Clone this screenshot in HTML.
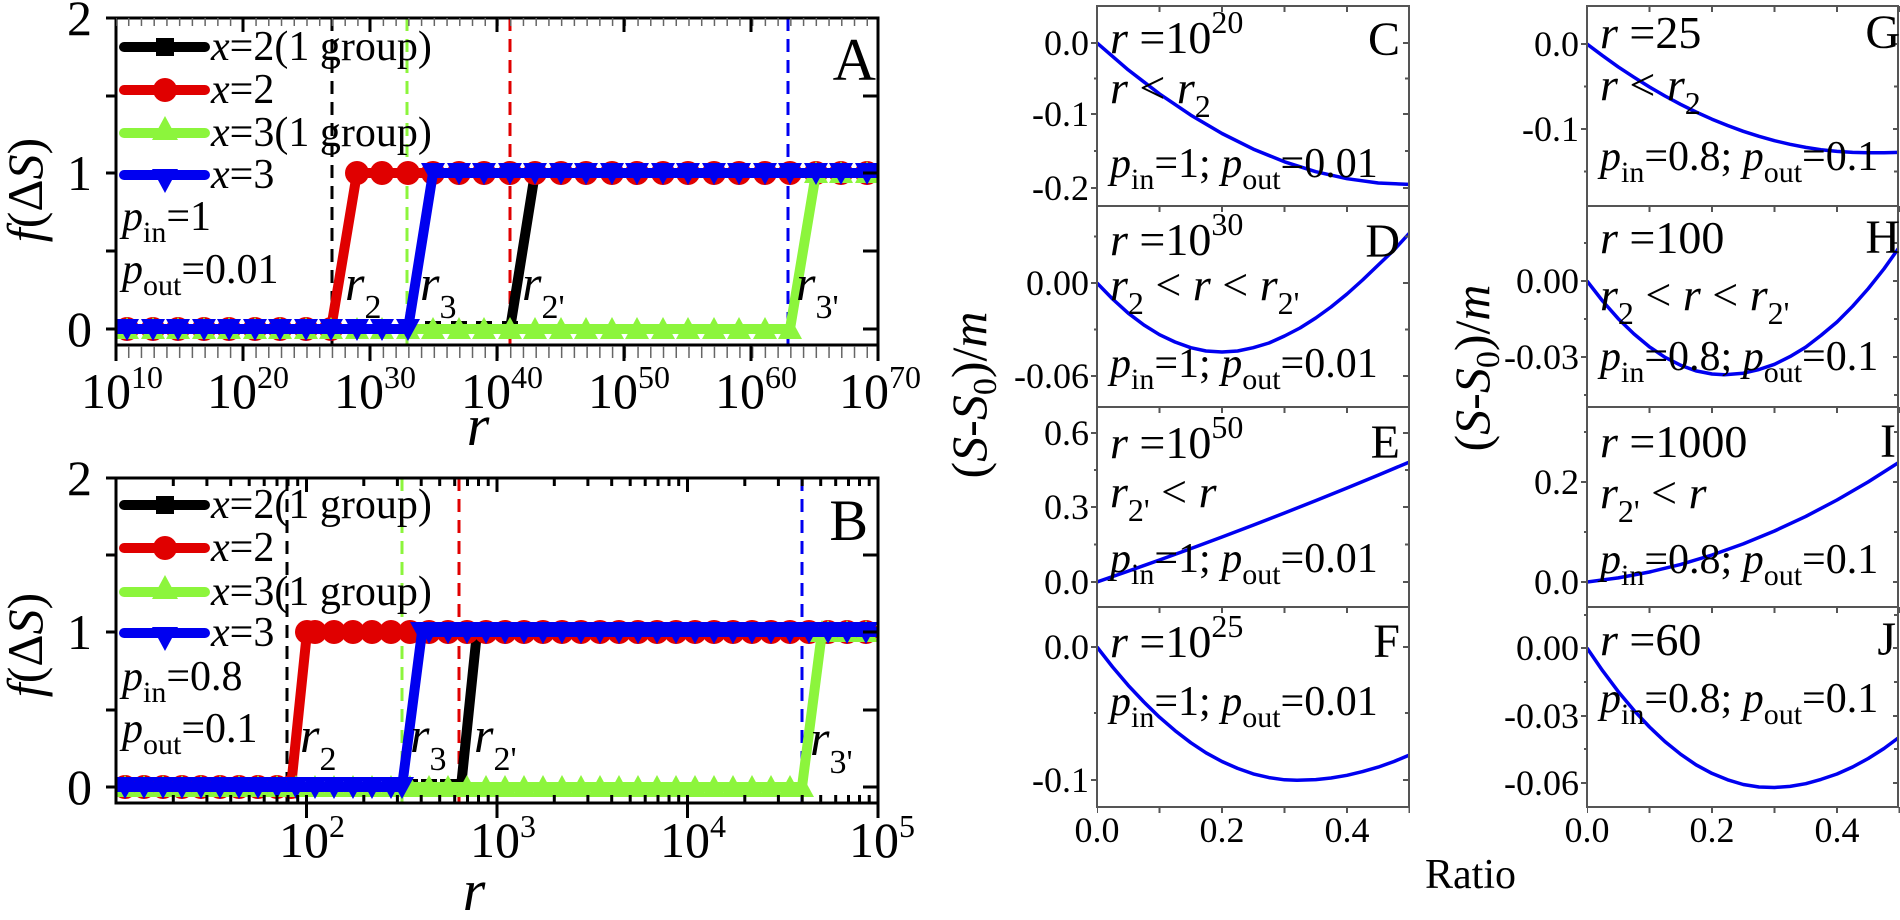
<!DOCTYPE html>
<html><head><meta charset="utf-8"><style>
html,body{margin:0;padding:0;background:#fff;font-family:"Liberation Serif","Times New Roman",Times,serif;}
text,tspan{font-family:"Liberation Serif","Times New Roman",Times,serif !important;}
</style></head><body>
<svg width="1900" height="915" viewBox="0 0 1900 915" xmlns="http://www.w3.org/2000/svg" font-family="Liberation Serif, Times New Roman, Times, serif">
<defs>
<marker id="mSq" markerWidth="18" markerHeight="18" refX="9" refY="9" markerUnits="userSpaceOnUse"><rect x="1" y="1" width="16" height="16" fill="#000"/></marker>
<marker id="mCi" markerWidth="26" markerHeight="26" refX="13" refY="13" markerUnits="userSpaceOnUse"><circle cx="13" cy="13" r="12" fill="#e00000"/></marker>
<marker id="mTu" markerWidth="24" markerHeight="24" refX="12" refY="12" markerUnits="userSpaceOnUse"><polygon points="12,0 24,22 0,22" fill="#8cf53c"/></marker>
<marker id="mTd" markerWidth="24" markerHeight="24" refX="12" refY="12" markerUnits="userSpaceOnUse"><polygon points="0,2 24,2 12,24" fill="#0000f0"/></marker>
<clipPath id="cA"><rect x="116" y="18" width="762" height="327"/></clipPath>
<clipPath id="cB"><rect x="116" y="478" width="762" height="325"/></clipPath>
<clipPath id="cC"><rect x="1097" y="6" width="312" height="200"/></clipPath>
<clipPath id="cD"><rect x="1097" y="206" width="312" height="201"/></clipPath>
<clipPath id="cE"><rect x="1097" y="407" width="312" height="200"/></clipPath>
<clipPath id="cF"><rect x="1097" y="607" width="312" height="200"/></clipPath>
<clipPath id="cG"><rect x="1587" y="6" width="312" height="200"/></clipPath>
<clipPath id="cH"><rect x="1587" y="206" width="312" height="201"/></clipPath>
<clipPath id="cI"><rect x="1587" y="407" width="312" height="200"/></clipPath>
<clipPath id="cJ"><rect x="1587" y="607" width="312" height="200"/></clipPath>
</defs>

<!-- ================= PANEL A ================= -->
<g stroke-width="3" fill="none" stroke-dasharray="13,8" clip-path="url(#cA)">
<line x1="332" y1="18" x2="332" y2="345" stroke="#000"/>
<line x1="407" y1="18" x2="407" y2="345" stroke="#8cf53c"/>
<line x1="510" y1="18" x2="510" y2="345" stroke="#e00000"/>
<line x1="788" y1="18" x2="788" y2="345" stroke="#0000f0"/>
</g>
<g fill="none" stroke-width="10" stroke-linejoin="round" clip-path="url(#cA)">
<polyline stroke="#000" marker-mid="url(#mSq)" points="116,329 127,329 153,329 178,329 204,329 229,329 255,329 280,329 306,329 331,329 357,329 382,329 408,329 433,329 459,329 484,329 510,329 535,173 561,173 586,173 612,173 637,173 663,173 688,173 714,173 739,173 765,173 790,173 816,173 841,173 867,173 878,173"/>
<polyline stroke="#e00000" marker-mid="url(#mCi)" points="116,329 127,329 153,329 178,329 204,329 229,329 255,329 280,329 306,329 331,329 357,173 382,173 408,173 433,173 459,173 484,173 510,173 535,173 561,173 586,173 612,173 637,173 663,173 688,173 714,173 739,173 765,173 790,173 816,173 841,173 867,173 878,173"/>
<polyline stroke="#8cf53c" marker-mid="url(#mTu)" points="116,329 127,329 153,329 178,329 204,329 229,329 255,329 280,329 306,329 331,329 357,329 382,329 408,329 433,329 459,329 484,329 510,329 535,329 561,329 586,329 612,329 637,329 663,329 688,329 714,329 739,329 765,329 790,329 816,173 841,173 867,173 878,173"/>
<polyline stroke="#0000f0" marker-mid="url(#mTd)" points="116,329 127,329 153,329 178,329 204,329 229,329 255,329 280,329 306,329 331,329 357,329 382,329 408,329 433,173 459,173 484,173 510,173 535,173 561,173 586,173 612,173 637,173 663,173 688,173 714,173 739,173 765,173 790,173 816,173 841,173 867,173 878,173"/>
</g>
<rect x="116" y="18" width="762" height="327" fill="none" stroke="#000" stroke-width="3"/>
<line x1="116" y1="352" x2="878" y2="352" stroke="#666" stroke-width="12" stroke-dasharray="1.5,11.233" stroke-dashoffset="0.75"/>
<line x1="116" y1="22" x2="878" y2="22" stroke="#666" stroke-width="8" stroke-dasharray="1.5,11.233" stroke-dashoffset="0.75"/>
<g stroke="#000" stroke-width="3">
<line x1="116" y1="345" x2="116" y2="361"/><line x1="243" y1="345" x2="243" y2="361"/><line x1="370" y1="345" x2="370" y2="361"/><line x1="497" y1="345" x2="497" y2="361"/><line x1="624" y1="345" x2="624" y2="361"/><line x1="751" y1="345" x2="751" y2="361"/><line x1="878" y1="345" x2="878" y2="361"/>
<line x1="243" y1="18" x2="243" y2="32"/><line x1="370" y1="18" x2="370" y2="32"/><line x1="497" y1="18" x2="497" y2="32"/><line x1="624" y1="18" x2="624" y2="32"/><line x1="751" y1="18" x2="751" y2="32"/>
<line x1="106" y1="18" x2="116" y2="18"/><line x1="106" y1="96" x2="116" y2="96"/><line x1="106" y1="173" x2="116" y2="173"/><line x1="106" y1="251" x2="116" y2="251"/><line x1="106" y1="329" x2="116" y2="329"/>
<line x1="863" y1="96" x2="878" y2="96"/><line x1="863" y1="173" x2="878" y2="173"/><line x1="863" y1="251" x2="878" y2="251"/><line x1="863" y1="329" x2="878" y2="329"/>
</g>
<g font-size="50" text-anchor="end" font-family="Liberation Serif, serif">
<text x="92" y="35">2</text><text x="92" y="190">1</text><text x="92" y="346">0</text>
</g>
<g font-size="50" text-anchor="middle" font-family="Liberation Serif, serif">
<text x="122" y="408">10<tspan dy="-20" font-size="32">10</tspan></text>
<text x="248" y="408">10<tspan dy="-20" font-size="32">20</tspan></text>
<text x="375" y="408">10<tspan dy="-20" font-size="32">30</tspan></text>
<text x="502" y="408">10<tspan dy="-20" font-size="32">40</tspan></text>
<text x="629" y="408">10<tspan dy="-20" font-size="32">50</tspan></text>
<text x="756" y="408">10<tspan dy="-20" font-size="32">60</tspan></text>
<text x="880" y="408">10<tspan dy="-20" font-size="32">70</tspan></text>
</g>
<text x="478" y="445" font-size="58" font-style="italic" text-anchor="middle" font-family="Liberation Serif, serif">r</text>
<text transform="translate(42,190) rotate(-90)" font-size="50" text-anchor="middle" font-family="Liberation Serif, serif"><tspan font-style="italic">f</tspan>(Δ<tspan font-style="italic">S</tspan>)</text>
<text x="876" y="80" font-size="60" text-anchor="end" font-family="Liberation Serif, serif">A</text>
<g stroke-width="10" stroke-linecap="round">
<line x1="124" y1="47" x2="205" y2="47" stroke="#000"/><rect x="156" y="38" width="18" height="18" fill="#000"/>
<line x1="124" y1="90" x2="205" y2="90" stroke="#e00000"/><circle cx="165" cy="90" r="12" fill="#e00000"/>
<line x1="124" y1="133" x2="205" y2="133" stroke="#8cf53c"/><polygon points="165,116 178,140 152,140" fill="#8cf53c"/>
<line x1="124" y1="175" x2="205" y2="175" stroke="#0000f0"/><polygon points="152,169 178,169 165,193" fill="#0000f0"/>
</g>
<g font-size="42" font-family="Liberation Serif, serif">
<text x="211" y="60"><tspan font-style="italic">x</tspan>=2(1 group)</text>
<text x="211" y="103"><tspan font-style="italic">x</tspan>=2</text>
<text x="211" y="146"><tspan font-style="italic">x</tspan>=3(1 group)</text>
<text x="211" y="188"><tspan font-style="italic">x</tspan>=3</text>
<text x="122" y="230"><tspan font-style="italic">p</tspan><tspan dy="12" font-size="30">in</tspan><tspan dy="-12">=1</tspan></text>
<text x="122" y="283"><tspan font-style="italic">p</tspan><tspan dy="12" font-size="30">out</tspan><tspan dy="-12">=0.01</tspan></text>
</g>
<g font-size="50" font-family="Liberation Serif, serif">
<text x="345" y="300"><tspan font-style="italic">r</tspan><tspan dy="18" font-size="34">2</tspan></text>
<text x="420" y="300"><tspan font-style="italic">r</tspan><tspan dy="18" font-size="34">3</tspan></text>
<text x="522" y="300"><tspan font-style="italic">r</tspan><tspan dy="18" font-size="34">2'</tspan></text>
<text x="796" y="300"><tspan font-style="italic">r</tspan><tspan dy="18" font-size="34">3'</tspan></text>
</g>

<!-- ================= PANEL B ================= -->
<g stroke-width="3" fill="none" stroke-dasharray="13,8" clip-path="url(#cB)">
<line x1="287" y1="478" x2="287" y2="803" stroke="#000"/>
<line x1="402" y1="478" x2="402" y2="803" stroke="#8cf53c"/>
<line x1="459" y1="478" x2="459" y2="803" stroke="#e00000"/>
<line x1="802" y1="478" x2="802" y2="803" stroke="#0000f0"/>
</g>
<g fill="none" stroke-width="10" stroke-linejoin="round" clip-path="url(#cB)">
<polyline stroke="#000" marker-mid="url(#mSq)" points="116,787 125,787 144,787 163,787 182,787 201,787 220,787 239,787 258,787 277,787 296,787 315,787 334,787 353,787 372,787 391,787 410,787 429,787 448,787 461,787 477,632 486,632 505,632 524,632 543,632 562,632 581,632 600,632 619,632 638,632 657,632 676,632 695,632 714,632 733,632 752,632 771,632 790,632 809,632 828,632 847,632 866,632 878,632"/>
<polyline stroke="#e00000" marker-mid="url(#mCi)" points="116,787 125,787 144,787 163,787 182,787 201,787 220,787 239,787 258,787 277,787 291,787 307,632 315,632 334,632 353,632 372,632 391,632 410,632 429,632 448,632 467,632 486,632 505,632 524,632 543,632 562,632 581,632 600,632 619,632 638,632 657,632 676,632 695,632 714,632 733,632 752,632 771,632 790,632 809,632 828,632 847,632 866,632 878,632"/>
<polyline stroke="#8cf53c" marker-mid="url(#mTu)" points="116,787 125,787 144,787 163,787 182,787 201,787 220,787 239,787 258,787 277,787 296,787 315,787 334,787 353,787 372,787 391,787 410,787 429,787 448,787 467,787 486,787 505,787 524,787 543,787 562,787 581,787 600,787 619,787 638,787 657,787 676,787 695,787 714,787 733,787 752,787 771,787 790,787 802,787 822,632 828,632 847,632 866,632 878,632"/>
<polyline stroke="#0000f0" marker-mid="url(#mTd)" points="116,787 125,787 144,787 163,787 182,787 201,787 220,787 239,787 258,787 277,787 296,787 315,787 334,787 353,787 372,787 391,787 402,787 422,632 429,632 448,632 467,632 486,632 505,632 524,632 543,632 562,632 581,632 600,632 619,632 638,632 657,632 676,632 695,632 714,632 733,632 752,632 771,632 790,632 809,632 828,632 847,632 866,632 878,632"/>
</g>
<rect x="116" y="478" width="762" height="325" fill="none" stroke="#000" stroke-width="3"/>
<path stroke="#000" stroke-width="3" fill="none" d="
M173.3,803v-8M206.9,803v-8M230.7,803v-8M249.2,803v-8M264.2,803v-8M277,803v-8M288,803v-8M297.7,803v-8
M363.8,803v-8M397.4,803v-8M421.2,803v-8M439.7,803v-8M454.7,803v-8M467.5,803v-8M478.5,803v-8M488.2,803v-8
M554.3,803v-8M587.9,803v-8M611.7,803v-8M630.2,803v-8M645.2,803v-8M658,803v-8M669,803v-8M678.7,803v-8
M744.8,803v-8M778.4,803v-8M802.2,803v-8M820.7,803v-8M835.7,803v-8M848.5,803v-8M859.5,803v-8M869.2,803v-8
M173.3,478v8M206.9,478v8M230.7,478v8M249.2,478v8M264.2,478v8M277,478v8M288,478v8M297.7,478v8
M363.8,478v8M397.4,478v8M421.2,478v8M439.7,478v8M454.7,478v8M467.5,478v8M478.5,478v8M488.2,478v8
M554.3,478v8M587.9,478v8M611.7,478v8M630.2,478v8M645.2,478v8M658,478v8M669,478v8M678.7,478v8
M744.8,478v8M778.4,478v8M802.2,478v8M820.7,478v8M835.7,478v8M848.5,478v8M859.5,478v8M869.2,478v8
M306.5,795v23M497,795v23M687.5,795v23M878,795v23M306.5,478v14M497,478v14M687.5,478v14
M106,478h10M106,555h10M106,632h10M106,710h10M106,787h10
M863,555h15M863,632h15M863,710h15M863,787h15"/>
<g font-size="50" text-anchor="end" font-family="Liberation Serif, serif">
<text x="92" y="495">2</text><text x="92" y="649">1</text><text x="92" y="804">0</text>
</g>
<g font-size="50" text-anchor="middle" font-family="Liberation Serif, serif">
<text x="312" y="857">10<tspan dy="-20" font-size="32">2</tspan></text>
<text x="503" y="857">10<tspan dy="-20" font-size="32">3</tspan></text>
<text x="693" y="857">10<tspan dy="-20" font-size="32">4</tspan></text>
<text x="882" y="857">10<tspan dy="-20" font-size="32">5</tspan></text>
</g>
<text x="474" y="910" font-size="58" font-style="italic" text-anchor="middle" font-family="Liberation Serif, serif">r</text>
<text transform="translate(42,645) rotate(-90)" font-size="50" text-anchor="middle" font-family="Liberation Serif, serif"><tspan font-style="italic">f</tspan>(Δ<tspan font-style="italic">S</tspan>)</text>
<text x="868" y="540" font-size="58" text-anchor="end" font-family="Liberation Serif, serif">B</text>
<g stroke-width="10" stroke-linecap="round">
<line x1="124" y1="505" x2="205" y2="505" stroke="#000"/><rect x="156" y="496" width="18" height="18" fill="#000"/>
<line x1="124" y1="548" x2="205" y2="548" stroke="#e00000"/><circle cx="165" cy="548" r="12" fill="#e00000"/>
<line x1="124" y1="592" x2="205" y2="592" stroke="#8cf53c"/><polygon points="165,575 178,599 152,599" fill="#8cf53c"/>
<line x1="124" y1="633" x2="205" y2="633" stroke="#0000f0"/><polygon points="152,627 178,627 165,651" fill="#0000f0"/>
</g>
<g font-size="42" font-family="Liberation Serif, serif">
<text x="211" y="518"><tspan font-style="italic">x</tspan>=2(1 group)</text>
<text x="211" y="561"><tspan font-style="italic">x</tspan>=2</text>
<text x="211" y="605"><tspan font-style="italic">x</tspan>=3(1 group)</text>
<text x="211" y="646"><tspan font-style="italic">x</tspan>=3</text>
<text x="122" y="690"><tspan font-style="italic">p</tspan><tspan dy="12" font-size="30">in</tspan><tspan dy="-12">=0.8</tspan></text>
<text x="122" y="742"><tspan font-style="italic">p</tspan><tspan dy="12" font-size="30">out</tspan><tspan dy="-12">=0.1</tspan></text>
</g>
<g font-size="50" font-family="Liberation Serif, serif">
<text x="300" y="752"><tspan font-style="italic">r</tspan><tspan dy="18" font-size="34">2</tspan></text>
<text x="410" y="752"><tspan font-style="italic">r</tspan><tspan dy="18" font-size="34">3</tspan></text>
<text x="474" y="752"><tspan font-style="italic">r</tspan><tspan dy="18" font-size="34">2'</tspan></text>
<text x="810" y="755"><tspan font-style="italic">r</tspan><tspan dy="18" font-size="34">3'</tspan></text>
</g>

<!-- ================= RIGHT PANELS ================= -->
<g fill="none" stroke="#0000f0" stroke-width="3.5" stroke-linejoin="round">
<polyline clip-path="url(#cC)" points="1097,43 1128.25,69.9 1159.5,93.9 1190.75,115.1 1222,133.5 1253.25,149.1 1284.5,161.8 1315.75,171.7 1347,178.7 1378.25,183 1409.5,184.4"/>
<polyline clip-path="url(#cD)" points="1097,283 1112.6,299 1128.25,313.2 1143.9,325 1159.5,334.7 1175,342 1190.75,347.7 1206,351 1222,352 1237.6,351 1253.25,347.7 1269,343 1284.5,336 1300,328 1315.75,318 1331,307 1347,294 1362.6,280 1378.25,265 1394,250 1409.5,233"/>
<polyline clip-path="url(#cE)" points="1097,582 1128.25,571.1 1159.5,560 1190.75,548.6 1222,537 1253.25,525.1 1284.5,513 1315.75,500.6 1347,488 1378.25,475.1 1409.5,462"/>
<polyline clip-path="url(#cF)" points="1097,647 1112.6,667 1128.25,685.4 1143.9,702 1159.5,717.2 1175,730.6 1190.75,742.7 1206,752.8 1222,761.5 1237.6,768.4 1253.25,773.9 1269,777.6 1284.5,779.8 1297,780.3 1315.75,779.6 1331,778 1347,775.3 1362.6,771.6 1378.25,767.1 1394,761.5 1409.5,755"/>
<polyline clip-path="url(#cG)" points="1587,44 1602.6,55.7 1618.25,66.9 1633.9,77.2 1649.5,87 1665,96 1680.75,104.4 1696,112 1712,119.2 1727.6,125.5 1743.25,131.3 1759,136.3 1774.5,140.7 1790,144.3 1805.75,147.4 1821,149.7 1837,151.4 1852.6,152.4 1868.25,152.8 1884,152.7 1899.5,152.4"/>
<polyline clip-path="url(#cH)" points="1587,281 1602.6,301 1618.25,318.7 1633.9,333.9 1649.5,346.9 1665,357.3 1680.75,365.3 1696,370.9 1712,374 1724.5,374.7 1743.25,373.2 1759,369.5 1774.5,364.3 1790,356.6 1805.75,347.1 1821,335.4 1837,322 1852.6,306.3 1868.25,288.6 1884,268.8 1899.5,247"/>
<polyline clip-path="url(#cI)" points="1587,582 1618.25,577.9 1649.5,572 1680.75,564.4 1712,555 1743.25,543.9 1774.5,531 1805.75,516.4 1837,500 1868.25,481.9 1899.5,462"/>
<polyline clip-path="url(#cJ)" points="1587,648 1602.6,670.7 1618.25,691.6 1633.9,710.3 1649.5,727 1665,741.6 1680.75,754.3 1696,764.8 1712,773.4 1727.6,779.8 1743.25,784.5 1759,787 1774.5,787.5 1790,786.4 1805.75,783.7 1821,779.4 1837,774 1852.6,767 1868.25,758.5 1884,748.5 1899.5,737"/>
</g>
<g fill="none" stroke="#555" stroke-width="2">
<rect x="1097" y="6" width="312" height="801"/>
<line x1="1097" y1="206" x2="1409" y2="206"/><line x1="1097" y1="407" x2="1409" y2="407"/><line x1="1097" y1="607" x2="1409" y2="607"/>
<rect x="1587" y="6" width="311" height="801"/>
<line x1="1587" y1="206" x2="1898" y2="206"/><line x1="1587" y1="407" x2="1898" y2="407"/><line x1="1587" y1="607" x2="1898" y2="607"/>
</g>
<g stroke="#555" stroke-width="6" stroke-dasharray="2,60.5" stroke-dashoffset="1">
<line x1="1097" y1="9" x2="1410" y2="9"/><line x1="1097" y1="209" x2="1410" y2="209"/><line x1="1097" y1="410" x2="1410" y2="410"/><line x1="1097" y1="610" x2="1410" y2="610"/><line x1="1097" y1="810" x2="1410" y2="810"/>
<line x1="1587" y1="9" x2="1900" y2="9"/><line x1="1587" y1="209" x2="1900" y2="209"/><line x1="1587" y1="410" x2="1900" y2="410"/><line x1="1587" y1="610" x2="1900" y2="610"/><line x1="1587" y1="810" x2="1900" y2="810"/>
</g>
<path stroke="#555" stroke-width="2" fill="none" d="
M1091,43h6M1094,78.5h3M1091,114h6M1094,151h3M1091,188h6 M1403,43h6M1405,78.5h4M1403,114h6M1405,151h4M1403,188h6
M1094,236.5h3M1091,283h6M1094,329.5h3M1091,376h6 M1405,236.5h4M1403,283h6M1405,329.5h4M1403,376h6
M1091,433h6M1094,470h3M1091,507h6M1094,544.5h3M1091,582h6 M1403,433h6M1405,470h4M1403,507h6M1405,544.5h4M1403,582h6
M1091,647h6M1094,713h3M1091,780h6 M1403,647h6M1405,713h4M1403,780h6
M1581,44h6M1584,86.5h3M1581,129h6M1584,171.5h3 M1893,44h6M1894,86.5h4M1893,129h6M1894,171.5h4
M1584,243h3M1581,281h6M1584,319h3M1581,357h6M1584,395h3 M1894,243h4M1893,281h6M1894,319h4M1893,357h6M1894,395h4
M1584,432h3M1581,482h6M1584,532h3M1581,582h6 M1894,432h4M1893,482h6M1894,532h4M1893,582h6
M1584,615h3M1581,648h6M1584,682h3M1581,716h6M1584,749h3M1581,783h6 M1894,615h4M1893,648h6M1894,682h4M1893,716h6M1894,749h4M1893,783h6"/>
<g font-size="36" text-anchor="end" font-family="Liberation Serif, serif">
<text x="1089" y="55">0.0</text><text x="1089" y="126">-0.1</text><text x="1089" y="200">-0.2</text>
<text x="1089" y="295">0.00</text><text x="1089" y="388">-0.06</text>
<text x="1089" y="445">0.6</text><text x="1089" y="519">0.3</text><text x="1089" y="594">0.0</text>
<text x="1089" y="659">0.0</text><text x="1089" y="792">-0.1</text>
<text x="1579" y="56">0.0</text><text x="1579" y="141">-0.1</text>
<text x="1579" y="293">0.00</text><text x="1579" y="369">-0.03</text>
<text x="1579" y="494">0.2</text><text x="1579" y="594">0.0</text>
<text x="1579" y="660">0.00</text><text x="1579" y="728">-0.03</text><text x="1579" y="795">-0.06</text>
</g>
<g font-size="36" text-anchor="middle" font-family="Liberation Serif, serif">
<text x="1097" y="842">0.0</text><text x="1222" y="842">0.2</text><text x="1347" y="842">0.4</text>
<text x="1587" y="842">0.0</text><text x="1712" y="842">0.2</text><text x="1837" y="842">0.4</text>
</g>
<text x="1425" y="888" font-size="42" font-family="Liberation Serif, serif">Ratio</text>
<text transform="translate(986,395) rotate(-90)" font-size="50" text-anchor="middle" font-family="Liberation Serif, serif">(<tspan font-style="italic">S</tspan>-<tspan font-style="italic">S</tspan><tspan dy="10" font-size="34">0</tspan><tspan dy="-10">)/</tspan><tspan font-style="italic">m</tspan></text>
<text transform="translate(1489,368) rotate(-90)" font-size="50" text-anchor="middle" font-family="Liberation Serif, serif">(<tspan font-style="italic">S</tspan>-<tspan font-style="italic">S</tspan><tspan dy="10" font-size="34">0</tspan><tspan dy="-10">)/</tspan><tspan font-style="italic">m</tspan></text>

<g font-size="46" font-family="Liberation Serif, serif">
<text x="1110" y="53"><tspan font-style="italic">r</tspan> =10<tspan dy="-20" font-size="32">20</tspan></text>
<text x="1110" y="103"><tspan font-style="italic">r</tspan> &lt; <tspan font-style="italic">r</tspan><tspan dy="14" font-size="32">2</tspan></text>
<text x="1110" y="255"><tspan font-style="italic">r</tspan> =10<tspan dy="-20" font-size="32">30</tspan></text>
<text x="1110" y="300"><tspan font-style="italic">r</tspan><tspan dy="14" font-size="32">2</tspan><tspan dy="-14"> &lt; </tspan><tspan font-style="italic">r</tspan> &lt; <tspan font-style="italic">r</tspan><tspan dy="14" font-size="32">2'</tspan></text>
<text x="1110" y="458"><tspan font-style="italic">r</tspan> =10<tspan dy="-20" font-size="32">50</tspan></text>
<text x="1110" y="507"><tspan font-style="italic">r</tspan><tspan dy="14" font-size="32">2'</tspan><tspan dy="-14"> &lt; </tspan><tspan font-style="italic">r</tspan></text>
<text x="1110" y="657"><tspan font-style="italic">r</tspan> =10<tspan dy="-20" font-size="32">25</tspan></text>
<text x="1600" y="48"><tspan font-style="italic">r</tspan> =25</text>
<text x="1600" y="100"><tspan font-style="italic">r</tspan> &lt; <tspan font-style="italic">r</tspan><tspan dy="14" font-size="32">2</tspan></text>
<text x="1600" y="253"><tspan font-style="italic">r</tspan> =100</text>
<text x="1600" y="310"><tspan font-style="italic">r</tspan><tspan dy="14" font-size="32">2</tspan><tspan dy="-14"> &lt; </tspan><tspan font-style="italic">r</tspan> &lt; <tspan font-style="italic">r</tspan><tspan dy="14" font-size="32">2'</tspan></text>
<text x="1600" y="457"><tspan font-style="italic">r</tspan> =1000</text>
<text x="1600" y="508"><tspan font-style="italic">r</tspan><tspan dy="14" font-size="32">2'</tspan><tspan dy="-14"> &lt; </tspan><tspan font-style="italic">r</tspan></text>
<text x="1600" y="655"><tspan font-style="italic">r</tspan> =60</text>
</g>
<g font-size="42" font-family="Liberation Serif, serif">
<text x="1110" y="177"><tspan font-style="italic">p</tspan><tspan dy="12" font-size="30">in</tspan><tspan dy="-12">=1; </tspan><tspan font-style="italic">p</tspan><tspan dy="12" font-size="30">out</tspan><tspan dy="-12">=0.01</tspan></text>
<text x="1110" y="377"><tspan font-style="italic">p</tspan><tspan dy="12" font-size="30">in</tspan><tspan dy="-12">=1; </tspan><tspan font-style="italic">p</tspan><tspan dy="12" font-size="30">out</tspan><tspan dy="-12">=0.01</tspan></text>
<text x="1110" y="572"><tspan font-style="italic">p</tspan><tspan dy="12" font-size="30">in</tspan><tspan dy="-12">=1; </tspan><tspan font-style="italic">p</tspan><tspan dy="12" font-size="30">out</tspan><tspan dy="-12">=0.01</tspan></text>
<text x="1110" y="715"><tspan font-style="italic">p</tspan><tspan dy="12" font-size="30">in</tspan><tspan dy="-12">=1; </tspan><tspan font-style="italic">p</tspan><tspan dy="12" font-size="30">out</tspan><tspan dy="-12">=0.01</tspan></text>
<text x="1600" y="170"><tspan font-style="italic">p</tspan><tspan dy="12" font-size="30">in</tspan><tspan dy="-12">=0.8; </tspan><tspan font-style="italic">p</tspan><tspan dy="12" font-size="30">out</tspan><tspan dy="-12">=0.1</tspan></text>
<text x="1600" y="370"><tspan font-style="italic">p</tspan><tspan dy="12" font-size="30">in</tspan><tspan dy="-12">=0.8; </tspan><tspan font-style="italic">p</tspan><tspan dy="12" font-size="30">out</tspan><tspan dy="-12">=0.1</tspan></text>
<text x="1600" y="573"><tspan font-style="italic">p</tspan><tspan dy="12" font-size="30">in</tspan><tspan dy="-12">=0.8; </tspan><tspan font-style="italic">p</tspan><tspan dy="12" font-size="30">out</tspan><tspan dy="-12">=0.1</tspan></text>
<text x="1600" y="712"><tspan font-style="italic">p</tspan><tspan dy="12" font-size="30">in</tspan><tspan dy="-12">=0.8; </tspan><tspan font-style="italic">p</tspan><tspan dy="12" font-size="30">out</tspan><tspan dy="-12">=0.1</tspan></text>
</g>
<g font-size="48" text-anchor="end" font-family="Liberation Serif, serif">
<text x="1400" y="55">C</text><text x="1400" y="257">D</text><text x="1400" y="458">E</text><text x="1400" y="657">F</text>
<text x="1900" y="48">G</text><text x="1900" y="253">H</text><text x="1896" y="457">I</text><text x="1896" y="655">J</text>
</g>
</svg>
</body></html>
